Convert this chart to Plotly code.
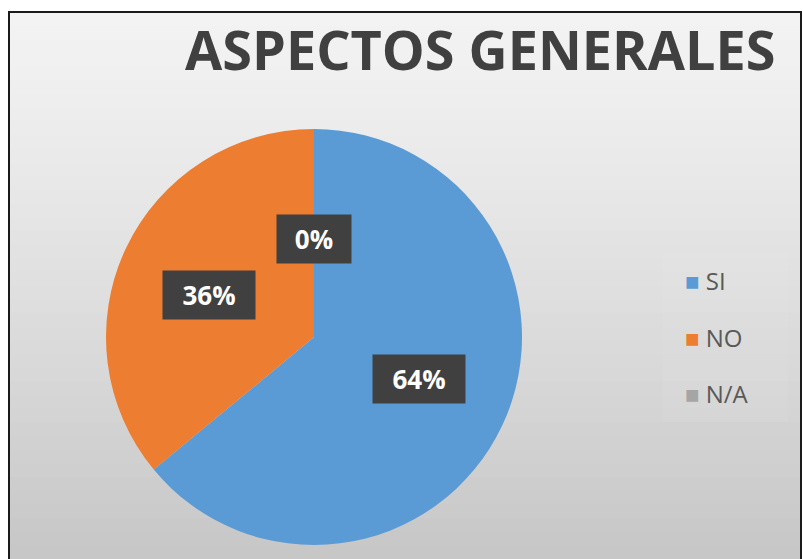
import math
import plotly.graph_objects as go

# ---- data ----
categories = ["SI", "NO", "N/A"]
values = [64, 36, 0]
pct_labels = ["64%", "36%", "0%"]
colors = ["#5B9BD5", "#ED7D31", "#A5A5A5"]
title_text = "ASPECTOS GENERALES"

W, H = 803, 559
cx, cy, R = 314, 337, 208  # pie centre / radius in px

fig = go.Figure()
fig.add_trace(go.Pie(
    labels=categories, values=values, sort=False, direction="clockwise",
    rotation=0, marker=dict(colors=colors, line=dict(width=0)),
    textinfo="none", showlegend=False, hoverinfo="label+percent",
    domain=dict(x=[(cx - R) / W, (cx + R) / W], y=[1 - (cy + R) / H, 1 - (cy - R) / H]),
))

shapes = []
# background gradient (frame area)
top_px, bot_px = 12, H
N = 40
c0, c1 = 243, 198
for i in range(N):
    y0 = top_px + (bot_px - top_px) * i / N
    y1 = top_px + (bot_px - top_px) * (i + 1) / N + 1
    t = (i + 0.5) / N
    v = int(round(c0 + (c1 - c0) * (t ** 1.2)))
    shapes.append(dict(type="rect", xref="paper", yref="paper", layer="below",
                       x0=9 / W, x1=801 / W, y0=1 - y1 / H, y1=1 - y0 / H,
                       fillcolor=f"rgb({v},{v},{v})", line=dict(width=0)))
# legend panel
shapes.append(dict(type="rect", xref="paper", yref="paper", layer="below",
                   x0=663 / W, x1=788 / W, y0=1 - 422 / H, y1=1 - 253 / H,
                   fillcolor="rgba(255,255,255,0.05)", line=dict(width=0)))
# frame border
shapes.append(dict(type="rect", xref="paper", yref="paper", layer="above",
                   x0=9 / W, x1=801 / W, y0=-0.02, y1=1 - 12 / H,
                   fillcolor="rgba(0,0,0,0)", line=dict(color="#1a1a1a", width=2)))

annotations = []
annotations.append(dict(text=f"<b>{title_text}</b>", xref="paper", yref="paper",
                        x=480 / W, y=1 - 49 / H, xanchor="center", yanchor="middle",
                        showarrow=False,
                        font=dict(family="Open Sans", size=54, color="#404040")))

# data labels computed from slice mid-angles
total = sum(values)
cum = 0
rx, ry = 116, 98
for v, lab in zip(values, pct_labels):
    mid = (cum + v / 2) / total * 2 * math.pi
    cum += v
    px = cx + rx * math.sin(mid)
    py = cy - ry * math.cos(mid)
    annotations.append(dict(text=f"<b>{lab}</b>", xref="paper", yref="paper",
                            x=px / W, y=1 - py / H, xanchor="center", yanchor="middle",
                            showarrow=False, bgcolor="#404040",
                            width=92 if len(lab) > 2 else 74, height=48, borderpad=0,
                            font=dict(family="Open Sans", size=26, color="white")))

# legend
leg_y = [280, 337, 393]
for lab, col, ly in zip(categories, colors, leg_y):
    annotations.append(dict(text=f"<span style='color:{col}'>■</span>\u00a0{lab}",
                            xref="paper", yref="paper", x=683 / W, y=1 - ly / H,
                            xanchor="left", yanchor="middle", showarrow=False,
                            font=dict(family="Open Sans", size=24, color="#595959")))

fig.update_layout(width=W, height=H, margin=dict(l=0, r=0, t=0, b=0),
                  paper_bgcolor="white", plot_bgcolor="white",
                  shapes=shapes, annotations=annotations, showlegend=False)
fig.write_html("out.html", config={"displayModeBar": False},
               post_script="document.body.style.margin='0px';")
